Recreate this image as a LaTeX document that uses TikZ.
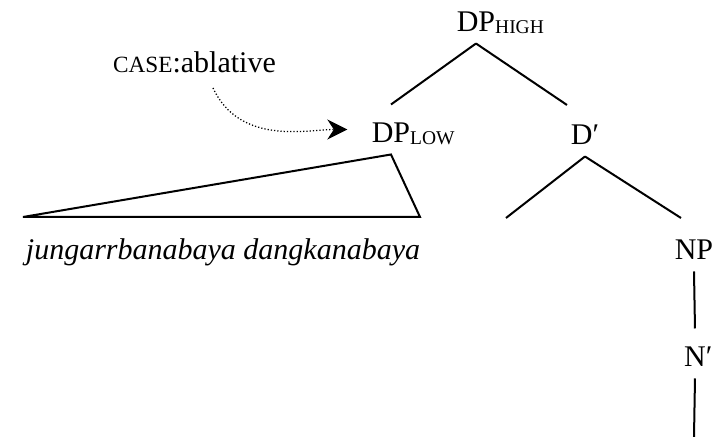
\documentclass[tikz,border=0pt]{standalone}
\usepackage{fontspec}
\setmainfont{Liberation Serif}
\usetikzlibrary{arrows.meta}
\newcommand{\subcap}[1]{\rlap{\raisebox{-0.8pt}{\fontsize{7.8}{8}\selectfont #1}}}

\begin{document}
\begin{tikzpicture}[x=0.4pt, y=-0.4pt, font=\fontsize{12}{14}\selectfont,
    cat/.style={anchor=base, inner xsep=0pt, inner ysep=4.4pt, text height=10.8pt, text depth=0pt},
    branch/.style={line width=0.8pt}]
    \useasboundingbox (0,0) rectangle (716,437);

    \node[cat] (dphigh) at (476,32) {DP\subcap{HIGH}};
    \node[cat] (dplow) at (391,143) {DP\subcap{LOW}};
    \node[cat] (dbar) at (585,145) {D′};
    \node[cat] (np) at (694,260) {NP};
    \node[cat] (nbar) at (695,367) {N\rlap{′}};
    \node[anchor=base, inner sep=0pt] (case) at (194.5,73) {{\fontsize{9.3}{10}\selectfont CASE}:ablative};
    \node[anchor=base, inner sep=0pt] (words) at (223,260) {\itshape jungarrbanabaya dangkanabaya};

    \coordinate (hi-r) at (567,105);
    \coordinate (tri-l) at (23,217);
    \coordinate (tri-r) at (420,217);
    \coordinate (bar-l) at (506,218);
    \coordinate (bar-r) at (681,218);
    \coordinate (n-end) at (694,437);

    \draw[branch] (dphigh.south) -- (dplow.north);
    \draw[branch] (dphigh.south) -- (hi-r);
    \draw[branch] (dplow.south) -- (tri-l) -- (tri-r) -- cycle;
    \draw[branch] (dbar.south) -- (bar-l);
    \draw[branch] (dbar.south) -- (bar-r);
    \draw[branch] (np.south) -- (nbar.north);
    \draw[branch] (nbar.south) -- (n-end);
    \draw[dash pattern=on 0.5pt off 0.8pt, line width=0.5pt, -{Stealth[length=8pt, width=8pt]}, shorten >=9.6pt]
        ([shift={(18.5,14)}]case.south) to[out=-65, in=180] (dplow.west);
\end{tikzpicture}
\end{document}
